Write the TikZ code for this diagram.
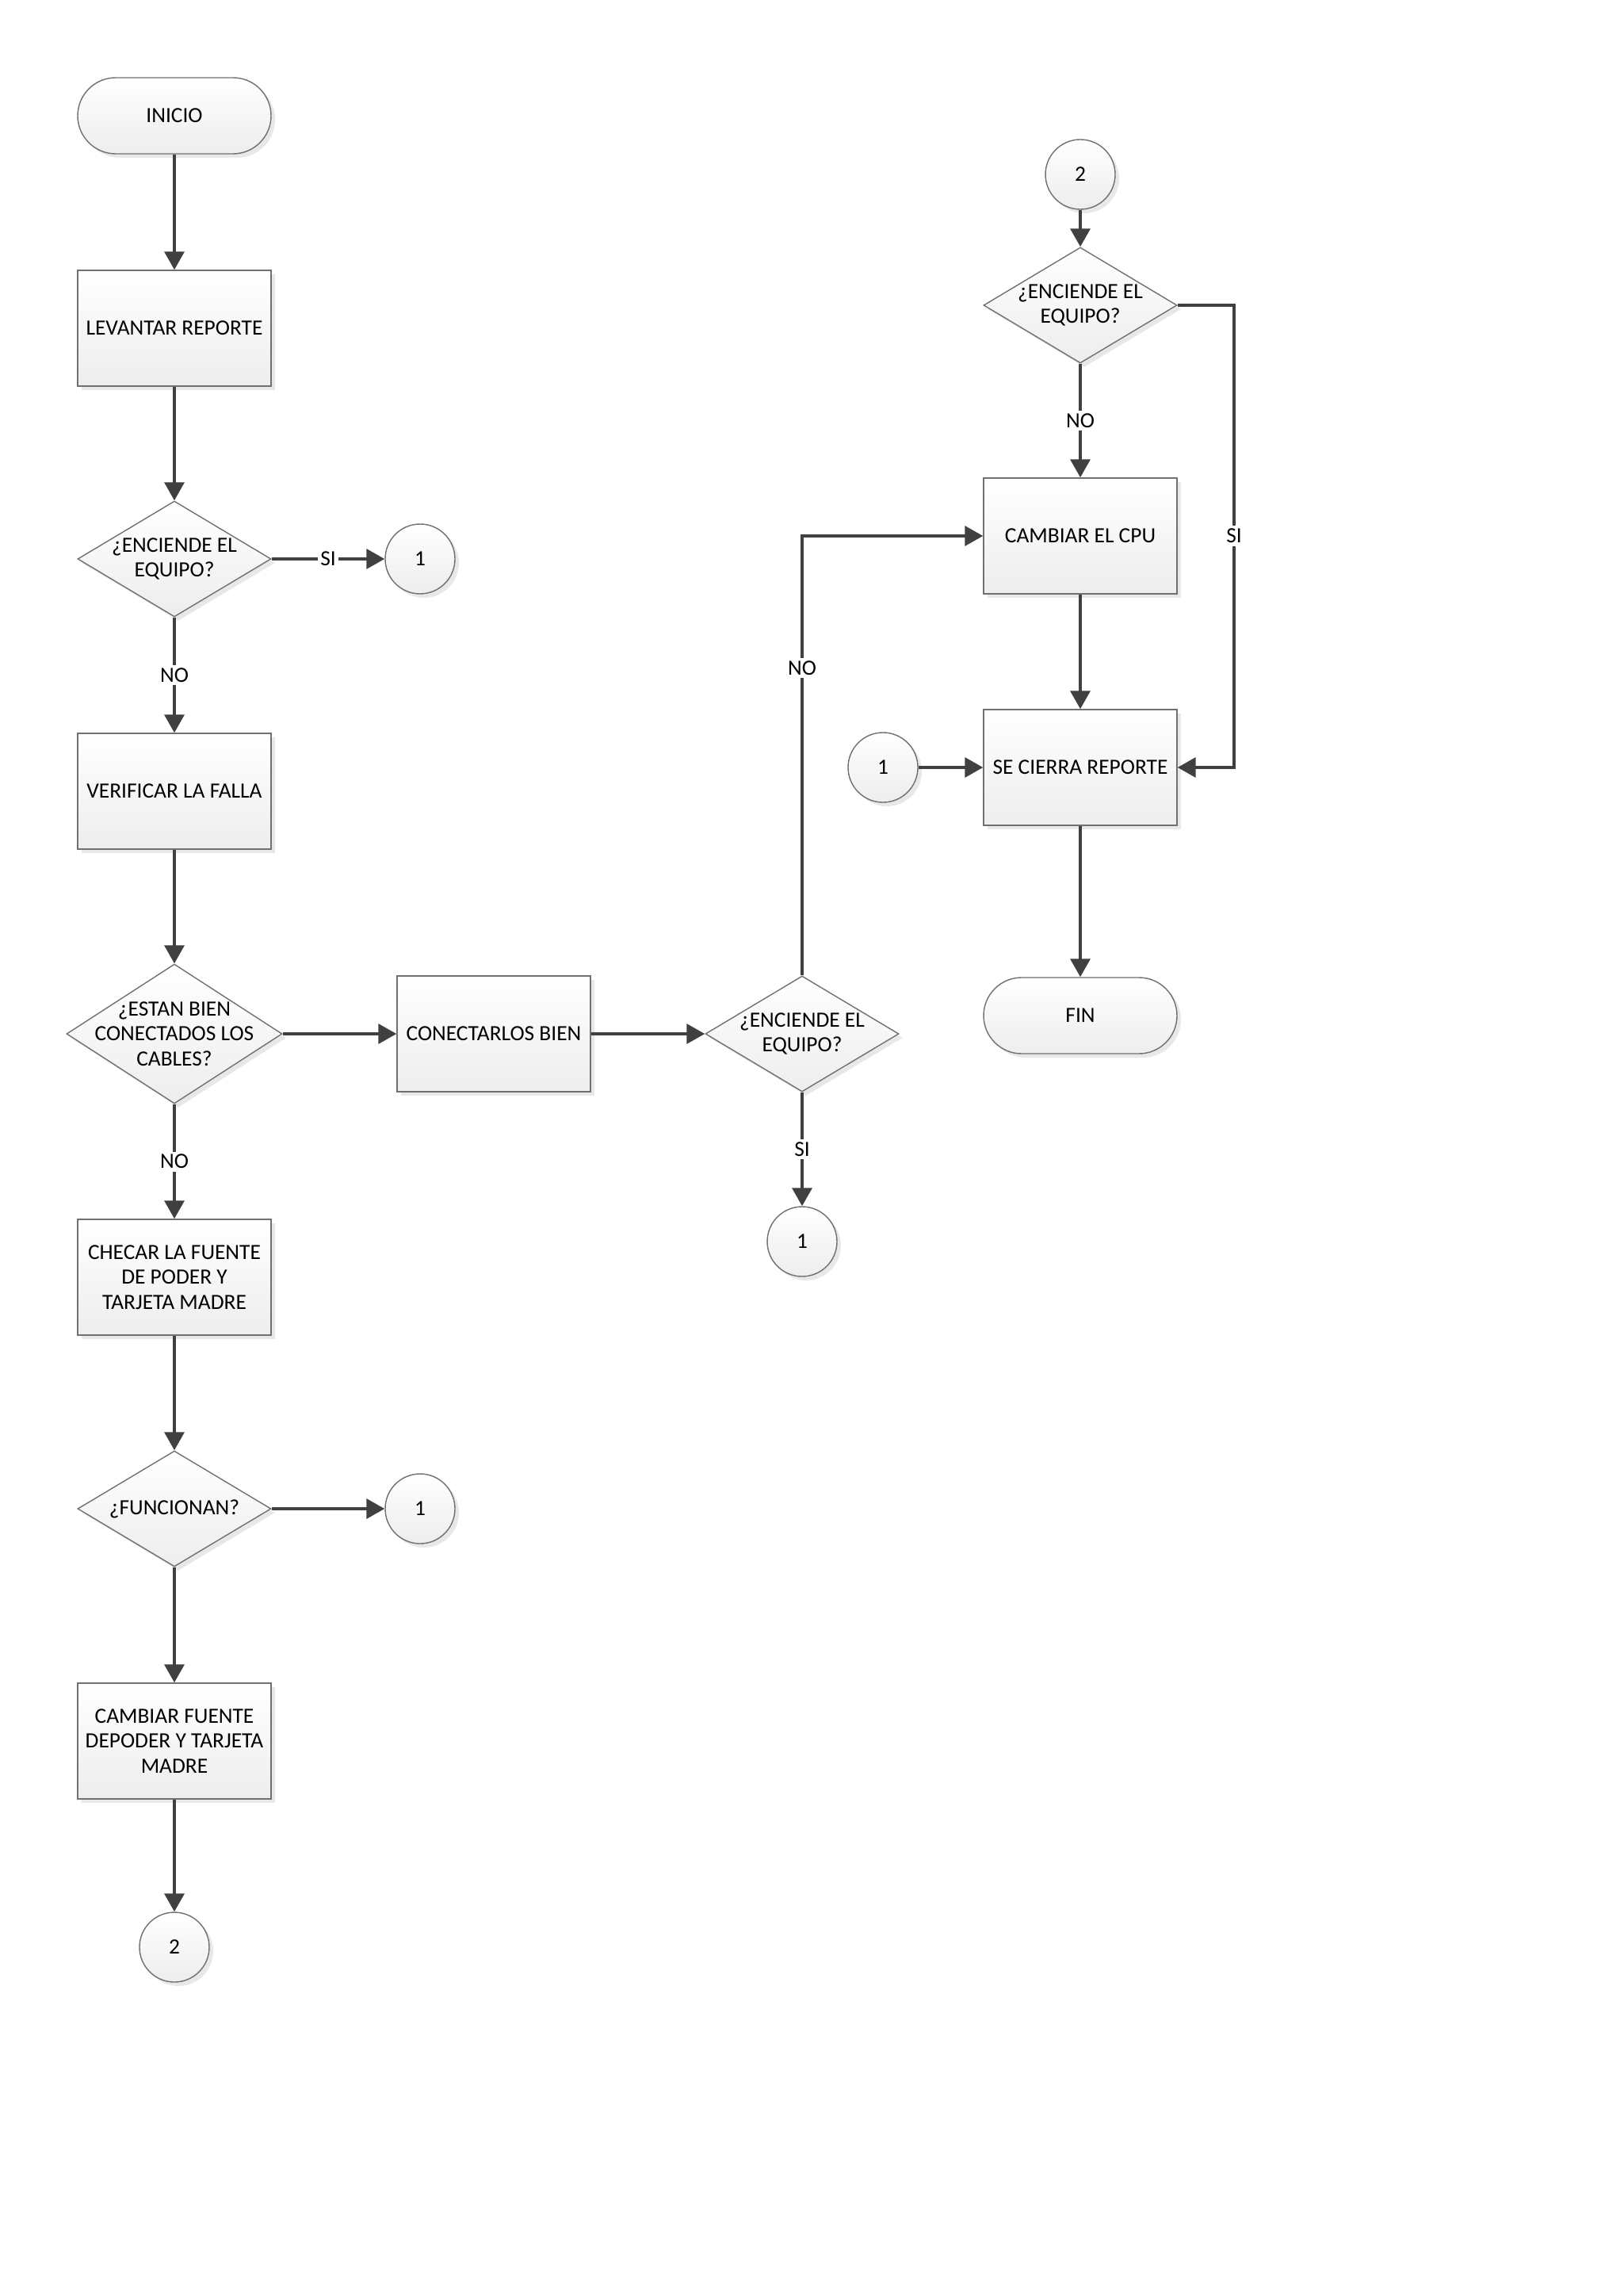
\documentclass[tikz,border=0pt]{standalone}
\usepackage{fontspec}
\setmainfont{Carlito}
\usepackage{tikz}
\usetikzlibrary{shapes.geometric,arrows.meta,calc,positioning,shadows}
\definecolor{linegray}{HTML}{404040}
\definecolor{edgegray}{HTML}{707070}

\tikzset{
  box/.style={draw=edgegray, line width=0.4pt, top color=white, bottom color=black!7,
    drop shadow={shadow xshift=0.5mm, shadow yshift=-0.5mm, opacity=0.18},
    font=\fontsize{7.8}{8.9}\selectfont, align=center, inner sep=1pt},
  process/.style={box, rectangle, minimum width=2.44cm, minimum height=1.46cm},
  terminal/.style={box, rectangle, rounded corners=0.48cm, minimum width=2.44cm, minimum height=0.96cm},
  decision/.style={box, diamond, inner sep=0pt, minimum width=2.44cm, minimum height=1.46cm},
  connector/.style={box, circle, minimum size=0.88cm},
  dectext/.style={font=\fontsize{7.8}{8.9}\selectfont, align=center},
  flow/.style={draw=linegray, line width=1.2pt, -{Triangle[length=6.5pt,width=7pt]}},
  lbl/.style={fill=white, inner sep=1pt, font=\fontsize{7.8}{8.9}\selectfont, text=black},
}

\begin{document}
\begin{tikzpicture}
        \useasboundingbox (0,0) rectangle (20.48,-28.96);
        %Left column
        \node[terminal] (inicio) at (2.20,-1.46) {INICIO};
        \node[process] (levantar) at (2.20,-4.14) {LEVANTAR REPORTE};
        \node[decision, label={[dectext]center:{¿ENCIENDE EL\\EQUIPO?}}] (enciende1) at (2.20,-7.05) {};
        \node[connector] (uno1) at (5.30,-7.05) {1};
        \node[process] (verificar) at (2.20,-9.98) {VERIFICAR LA FALLA};
        \node[decision, minimum width=2.72cm, minimum height=1.76cm,
              label={[dectext]center:{¿ESTAN BIEN\\CONECTADOS LOS\\CABLES?}}] (cables) at (2.20,-13.04) {};
        \node[process] (checar) at (2.20,-16.11) {CHECAR LA FUENTE\\DE PODER Y\\TARJETA MADRE};
        \node[decision, label={[dectext]center:{¿FUNCIONAN?}}] (funcionan) at (2.20,-19.03) {};
        \node[connector] (uno3) at (5.30,-19.03) {1};
        \node[process] (cambiarf) at (2.20,-21.96) {CAMBIAR FUENTE\\DEPODER Y TARJETA\\MADRE};
        \node[connector] (dos1) at (2.20,-24.56) {2};
        %Middle
        \node[process] (conectar) at (6.23,-13.04) {CONECTARLOS BIEN};
        \node[decision, label={[dectext]center:{¿ENCIENDE EL\\EQUIPO?}}] (enciende2) at (10.12,-13.04) {};
        \node[connector] (uno2) at (10.12,-15.66) {1};
        %Right column
        \node[connector] (dos2) at (13.63,-2.20) {2};
        \node[decision, label={[dectext]center:{¿ENCIENDE EL\\EQUIPO?}}] (enciende3) at (13.63,-3.85) {};
        \node[process] (cpu) at (13.63,-6.76) {CAMBIAR EL CPU};
        \node[process] (cierra) at (13.63,-9.68) {SE CIERRA REPORTE};
        \node[connector] (uno4) at (11.14,-9.68) {1};
        \node[terminal] (fin) at (13.63,-12.81) {FIN};
        \coordinate (siturn) at (15.57,-6.76);
        %Arrows
        \draw[flow] (inicio) -- (levantar);
        \draw[flow] (levantar) -- (enciende1);
        \draw[flow] (enciende1) -- node[lbl]{SI} (uno1);
        \draw[flow] (enciende1) -- node[lbl]{NO} (verificar);
        \draw[flow] (verificar) -- (cables);
        \draw[flow] (cables) -- (conectar);
        \draw[flow] (cables) -- node[lbl]{NO} (checar);
        \draw[flow] (checar) -- (funcionan);
        \draw[flow] (funcionan) -- (uno3);
        \draw[flow] (funcionan) -- (cambiarf);
        \draw[flow] (cambiarf) -- (dos1);
        \draw[flow] (conectar) -- (enciende2);
        \draw[flow] (enciende2) -- node[lbl]{SI} (uno2);
        \draw[flow] (enciende2.north) |- node[lbl, pos=0.35]{NO} (cpu.west);
        \draw[flow] (dos2) -- (enciende3);
        \draw[flow] (enciende3) -- node[lbl]{NO} (cpu);
        \draw[flow] (enciende3.east) -| (siturn) node[lbl]{SI} |- (cierra.east);
        \draw[flow] (cpu) -- (cierra);
        \draw[flow] (uno4) -- (cierra);
        \draw[flow] (cierra) -- (fin);
\end{tikzpicture}
\end{document}
